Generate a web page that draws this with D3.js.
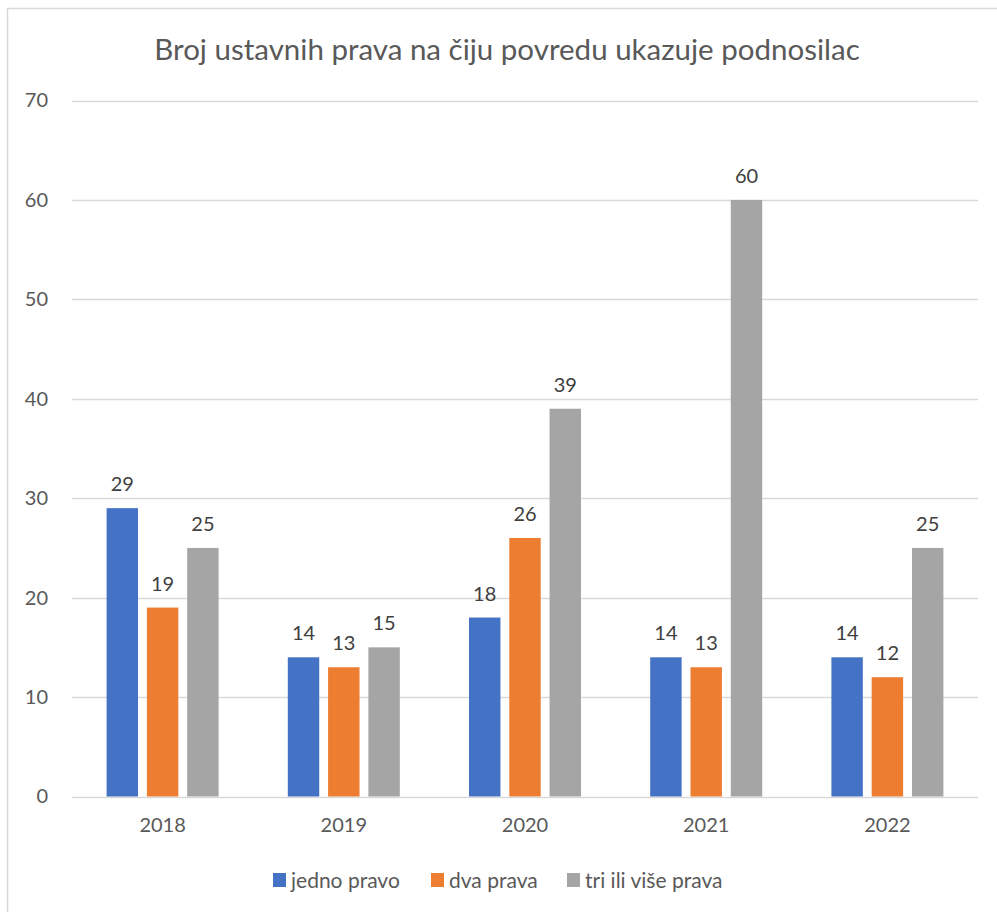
<!DOCTYPE html>
<html>
<head>
<meta charset="utf-8">
<script src="https://cdn.jsdelivr.net/npm/d3@7"></script>
<style>
  html, body { margin: 0; padding: 0; background: #fff; }
  svg { display: block; font-family: Lato, "Open Sans", sans-serif; }
</style>
</head>
<body>
<svg id="chart" width="997" height="912"></svg>
<script>
// Number of constitutional rights whose violation the applicant claims, by year
const years = ["2018", "2019", "2020", "2021", "2022"];
const seriesNames = ["jedno pravo", "dva prava", "tri ili više prava"];
const jednoPravo = [29, 14, 18, 14, 14];
const dvaPrava = [19, 13, 26, 13, 12];
const triIliVise = [25, 15, 39, 60, 25];
const yTicks = [0, 10, 20, 30, 40, 50, 60, 70];
const colors = ["#4472C4", "#ED7D31", "#A5A5A5"];
const titleText = "Broj ustavnih prava na čiju povredu ukazuje podnosilac";

const seriesValues = [jednoPravo, dvaPrava, triIliVise];
const FONT = "Lato, 'Open Sans', sans-serif";

const svg = d3.select("#chart");

// chart frame
svg.append("rect")
  .attr("x", 7.5).attr("y", 8.5)
  .attr("width", 1100).attr("height", 1100)
  .attr("fill", "none").attr("stroke", "#D9D9D9").attr("stroke-width", 1.5);

const plot = { left: 72, right: 978, top: 100.5, bottom: 796.5 };

const x = d3.scaleBand().domain(years).range([plot.left, plot.right]);
const half = x.bandwidth() / 2;
const inner = d3.scaleBand().domain(d3.range(seriesNames.length))
  .range([half - 56, half + 56]).paddingInner(0.22).paddingOuter(0);
const y = d3.scaleLinear().domain([0, 70]).range([plot.bottom, plot.top]);

// title
svg.append("text")
  .attr("x", 507).attr("y", 60)
  .attr("text-anchor", "middle")
  .attr("font-size", 29.5)
  .attr("fill", "#595959")
  .text(titleText);

// gridlines
svg.append("g").selectAll("line").data(yTicks).join("line")
  .attr("x1", plot.left).attr("x2", plot.right)
  .attr("y1", d => Math.round(y(d)) + 0.5).attr("y2", d => Math.round(y(d)) + 0.5)
  .attr("stroke", "#D9D9D9").attr("stroke-width", 1.5);

// y axis labels
const yAxis = d3.axisLeft(y).tickValues(yTicks).tickSize(0).tickPadding(0);
svg.append("g")
  .attr("transform", `translate(48,0)`)
  .call(yAxis)
  .call(g => g.select(".domain").remove())
  .call(g => g.selectAll("text")
    .attr("font-family", FONT)
    .attr("font-size", 20).attr("fill", "#595959"));

// x axis labels
const xAxis = d3.axisBottom(x).tickSize(0).tickPadding(0);
svg.append("g")
  .attr("transform", `translate(0,${plot.bottom + 21})`)
  .call(xAxis)
  .call(g => g.select(".domain").remove())
  .call(g => g.selectAll("text")
    .attr("font-family", FONT)
    .attr("font-size", 20).attr("fill", "#595959"));

// bars and value labels
seriesValues.forEach((vals, si) => {
  svg.append("g").attr("fill", colors[si])
    .selectAll("rect").data(vals).join("rect")
    .attr("x", (d, i) => x(years[i]) + inner(si))
    .attr("width", inner.bandwidth())
    .attr("y", d => y(d))
    .attr("height", d => y(0) - y(d));
  svg.append("g").selectAll("text").data(vals).join("text")
    .attr("x", (d, i) => x(years[i]) + inner(si) + inner.bandwidth() / 2)
    .attr("y", d => y(d) - 17)
    .attr("text-anchor", "middle")
    .attr("font-size", 20)
    .attr("fill", "#404040")
    .text(d => d);
});

// legend
const legendX = [273, 431, 567];
const legend = svg.append("g").selectAll("g").data(seriesNames).join("g")
  .attr("transform", (d, i) => `translate(${legendX[i]},873)`);
legend.append("rect").attr("width", 13).attr("height", 14)
  .attr("fill", (d, i) => colors[i]);
legend.append("text").attr("x", 18).attr("y", 14.5)
  .attr("font-size", 21).attr("fill", "#595959")
  .text(d => d);
</script>
</body>
</html>
